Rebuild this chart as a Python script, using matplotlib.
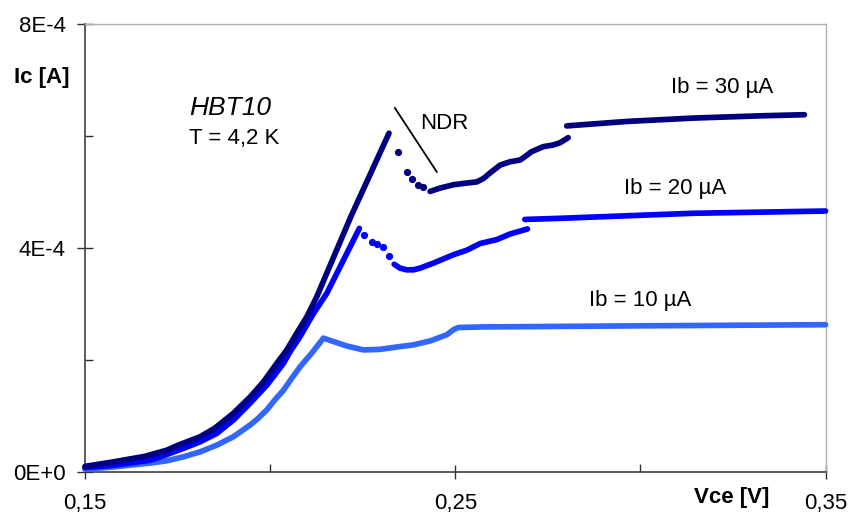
import matplotlib.pyplot as plt
from matplotlib.ticker import FixedLocator, FuncFormatter

# --- data (Ic in units of 1e-4 A) --------------------------------------------

# Ib = 30 uA
ib30_rise_v = [0.150, 0.1576, 0.1662, 0.1721, 0.1752, 0.1811, 0.1850, 0.1901, 0.1946,
               0.1982, 0.2018, 0.2045, 0.2072, 0.2099, 0.2126, 0.2218, 0.2321]
ib30_rise_i = [0.10, 0.18, 0.28, 0.39, 0.48, 0.63, 0.78, 1.05, 1.34,
               1.61, 1.94, 2.18, 2.48, 2.77, 3.13, 4.56, 6.05]
ib30_ndr_v = [0.2345, 0.2369, 0.2384, 0.2400, 0.2413]
ib30_ndr_i = [5.72, 5.36, 5.23, 5.13, 5.09]
ib30_mid_v = [0.2432, 0.2459, 0.2495, 0.2531, 0.2558, 0.2576, 0.2594, 0.2621,
              0.2648, 0.2675, 0.2688, 0.2706, 0.2738, 0.2765, 0.2783, 0.2805]
ib30_mid_i = [5.01, 5.07, 5.13, 5.16, 5.18, 5.24, 5.34, 5.48,
              5.54, 5.57, 5.63, 5.72, 5.81, 5.84, 5.88, 5.97]
ib30_sat_v = [0.2801, 0.2963, 0.3143, 0.3323, 0.3443]
ib30_sat_i = [6.18, 6.26, 6.32, 6.36, 6.38]

# Ib = 20 uA
ib20_rise_v = [0.150, 0.1576, 0.1676, 0.1716, 0.1765, 0.1811, 0.1856, 0.1901, 0.1946,
               0.1991, 0.2036, 0.2054, 0.2081, 0.2117, 0.2153, 0.2241]
ib20_rise_i = [0.08, 0.12, 0.21, 0.30, 0.42, 0.54, 0.69, 0.93, 1.23,
               1.55, 1.94, 2.15, 2.42, 2.83, 3.19, 4.35]
ib20_ndr_v = [0.2254, 0.2274, 0.2289, 0.2304, 0.2322]
ib20_ndr_i = [4.23, 4.11, 4.07, 4.02, 3.86]
ib20_mid_v = [0.2335, 0.2351, 0.2369, 0.2387, 0.2405, 0.2441, 0.2495, 0.2531, 0.2567, 0.2612, 0.2648, 0.2695]
ib20_mid_i = [3.71, 3.64, 3.61, 3.61, 3.64, 3.73, 3.88, 3.96, 4.08, 4.15, 4.25, 4.34]
ib20_sat_v = [0.2688, 0.2783, 0.3142, 0.3500]
ib20_sat_i = [4.51, 4.53, 4.62, 4.66]

# Ib = 10 uA
ib10_v = [0.150, 0.1576, 0.1676, 0.1721, 0.1765, 0.1811, 0.1856, 0.1901, 0.1946, 0.1968,
          0.1991, 0.2013, 0.2036, 0.2058, 0.2081, 0.2112, 0.2144,
          0.2207, 0.2252, 0.2297, 0.2351, 0.2387, 0.2432, 0.2477, 0.2495, 0.2508,
          0.2567, 0.2999, 0.3500]
ib10_i = [0.05, 0.09, 0.16, 0.20, 0.27, 0.36, 0.48, 0.63, 0.84, 0.96,
          1.11, 1.29, 1.46, 1.67, 1.88, 2.12, 2.39,
          2.25, 2.18, 2.19, 2.24, 2.27, 2.34, 2.45, 2.54, 2.58,
          2.59, 2.61, 2.63]

curve_labels = ["Ib = 30 µA", "Ib = 20 µA", "Ib = 10 µA"]
x_ticks = [0.15, 0.25, 0.35]
x_minor = [0.20, 0.30]
y_ticks = [0, 4e-4, 8e-4]
y_minor = [2e-4, 6e-4]
y_tick_labels = ["0E+0", "4E-4", "8E-4"]

c30, c20, c10 = "#000080", "#0000FF", "#3366FF"

plt.rcParams["font.family"] = ["Liberation Sans", "DejaVu Sans"]

fig = plt.figure(figsize=(8.5, 5.15), dpi=100)
ax = fig.add_axes([0.1, 0.0835, 0.8712, 0.8699])

lw = 4.1
ms = 5.2


def seg(v, i, c):
    ax.plot(v, [k * 1e-4 for k in i], color=c, lw=lw,
            solid_capstyle="round", solid_joinstyle="round", clip_on=False, zorder=3)


def dots(v, i, c):
    ax.plot(v, [k * 1e-4 for k in i], ls="none", marker="o", ms=ms,
            mec="none", color=c, clip_on=False, zorder=3)


seg(ib10_v, ib10_i, c10)

seg(ib20_rise_v, ib20_rise_i, c20)
dots(ib20_ndr_v, ib20_ndr_i, c20)
seg(ib20_mid_v, ib20_mid_i, c20)
seg(ib20_sat_v, ib20_sat_i, c20)

seg(ib30_rise_v, ib30_rise_i, c30)
dots(ib30_ndr_v, ib30_ndr_i, c30)
seg(ib30_mid_v, ib30_mid_i, c30)
seg(ib30_sat_v, ib30_sat_i, c30)

ax.set_xlim(0.15, 0.35)
ax.set_ylim(0, 8e-4)

ax.xaxis.set_major_locator(FixedLocator(x_ticks))
ax.xaxis.set_minor_locator(FixedLocator(x_minor))
ax.yaxis.set_major_locator(FixedLocator(y_ticks))
ax.yaxis.set_minor_locator(FixedLocator(y_minor))

ax.xaxis.set_major_formatter(FuncFormatter(lambda v, p: f"{v:.2f}".replace(".", ",")))
ax.set_yticklabels(y_tick_labels)

ax.tick_params(axis="both", which="major", labelsize=16, color="#303030", width=1.0)
ax.tick_params(axis="x", which="major", direction="inout", length=10, pad=10)
ax.tick_params(axis="y", which="major", direction="inout", length=12, pad=8)
ax.tick_params(axis="both", which="minor", direction="in", length=6, color="#303030", width=1.0)

for s in ("left", "bottom"):
    ax.spines[s].set_color("#404040")
    ax.spines[s].set_linewidth(1.2)
for s in ("top", "right"):
    ax.spines[s].set_color("#b0b0b0")
    ax.spines[s].set_linewidth(1.0)

# axis titles in Excel style
fig.text(42 / 850, 1 - 77 / 515, "Ic [A]", fontsize=16, fontweight="bold", ha="center", va="center")
fig.text(732 / 850, 1 - 498 / 515, "Vce [V]", fontsize=16, fontweight="bold", ha="center", va="center")

# annotations
ax.text(0.1782, 6.50e-4, "HBT10", fontsize=19, fontstyle="italic", ha="left", va="center")
ax.text(0.1782, 5.95e-4, "T = 4,2 K", fontsize=16, ha="left", va="center")
ax.plot([0.2337, 0.2450], [6.50e-4, 5.36e-4], color="black", lw=1.3)
ax.text(0.2404, 6.22e-4, "NDR", fontsize=16, ha="left", va="center")

ax.text(0.3220, 6.87e-4, curve_labels[0], fontsize=16, ha="center", va="center")
ax.text(0.3093, 5.07e-4, curve_labels[1], fontsize=16, ha="center", va="center")
ax.text(0.2999, 3.07e-4, curve_labels[2], fontsize=16, ha="center", va="center")

fig.savefig("out.png", dpi=100)
